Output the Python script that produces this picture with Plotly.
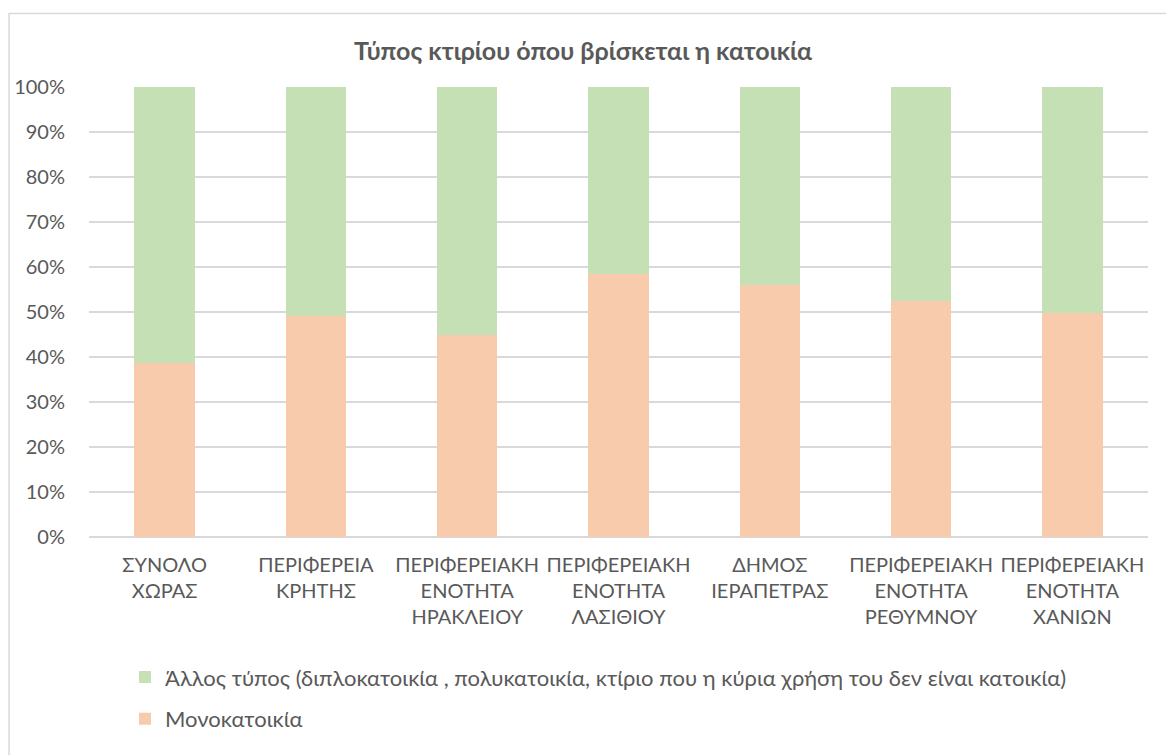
import plotly.graph_objects as go

categories = [
    "ΣΥΝΟΛΟ<br>ΧΩΡΑΣ",
    "ΠΕΡΙΦΕΡΕΙΑ<br>ΚΡΗΤΗΣ",
    "ΠΕΡΙΦΕΡΕΙΑΚΗ<br>ΕΝΟΤΗΤΑ<br>ΗΡΑΚΛΕΙΟΥ",
    "ΠΕΡΙΦΕΡΕΙΑΚΗ<br>ΕΝΟΤΗΤΑ<br>ΛΑΣΙΘΙΟΥ",
    "ΔΗΜΟΣ<br>ΙΕΡΑΠΕΤΡΑΣ",
    "ΠΕΡΙΦΕΡΕΙΑΚΗ<br>ΕΝΟΤΗΤΑ<br>ΡΕΘΥΜΝΟΥ",
    "ΠΕΡΙΦΕΡΕΙΑΚΗ<br>ΕΝΟΤΗΤΑ<br>ΧΑΝΙΩΝ",
]
monokatoikia = [38.6, 49.1, 44.8, 58.5, 56.0, 52.5, 49.7]
allos_typos = [61.4, 50.9, 55.2, 41.5, 44.0, 47.5, 50.3]
y_ticks = [0, 10, 20, 30, 40, 50, 60, 70, 80, 90, 100]
y_tick_labels = ["0%", "10%", "20%", "30%", "40%", "50%", "60%", "70%", "80%", "90%", "100%"]

name_mono = "Μονοκατοικία"
name_other = "Άλλος τύπος (διπλοκατοικία , πολυκατοικία, κτίριο που η κύρια χρήση του δεν είναι κατοικία)"
title_text = "Τύπος κτιρίου όπου βρίσκεται η κατοικία"

FONT = "Lato, 'Noto Sans', sans-serif"
TXT = "#595959"
GRID = "#D9D9D9"

fig = go.Figure()
fig.add_trace(go.Bar(x=categories, y=monokatoikia, name=name_mono,
                     marker=dict(color="#F8CBAD", line=dict(width=0)),
                     legendgroup="a", legendrank=2))
fig.add_trace(go.Bar(x=categories, y=allos_typos, name=name_other,
                     marker=dict(color="#C5E0B4", line=dict(width=0)),
                     legendgroup="b", legendrank=1))

fig.update_layout(
    width=1166, height=755,
    barmode="stack", bargap=0.6,
    plot_bgcolor="white", paper_bgcolor="white",
    margin=dict(l=89, r=18, t=87, b=218),
    font=dict(family=FONT, color=TXT, size=20),
    title=dict(text="<b>" + title_text + "</b>", x=0.5, xanchor="center",
               y=1 - 51 / 755, yanchor="middle",
               font=dict(size=25, color=TXT, family=FONT)),
    showlegend=True,
    legend=dict(orientation="v", x=0.034, xanchor="left", y=-0.265, yanchor="top",
                traceorder="grouped", tracegroupgap=10,
                font=dict(size=22, color=TXT, family=FONT),
                bgcolor="rgba(0,0,0,0)"),
    shapes=[dict(type="rect", xref="paper", yref="paper",
                 x0=(9 - 89) / 1060, x1=(1175 - 89) / 1060,
                 y0=(537 - 13) / 450.5, y1=(537 - 765) / 450.5,
                 line=dict(color=GRID, width=1.5), fillcolor="rgba(0,0,0,0)",
                 layer="below")],
)
fig.update_xaxes(showgrid=False, showline=False, ticks="", tickangle=0,
                 tickfont=dict(size=20, color=TXT, family=FONT),
                 ticklabelstandoff=14)
fig.update_yaxes(range=[0, 100], tickvals=y_ticks, ticktext=y_tick_labels,
                 showgrid=True, gridcolor=GRID, gridwidth=1.5,
                 zeroline=True, zerolinecolor=GRID, zerolinewidth=1.5,
                 showline=False, ticks="",
                 tickfont=dict(size=20, color=TXT, family=FONT),
                 ticklabelstandoff=23)

fig.write_html("out.html", config={"displayModeBar": False},
               post_script="document.body.style.margin='0';document.body.style.padding='0';")
